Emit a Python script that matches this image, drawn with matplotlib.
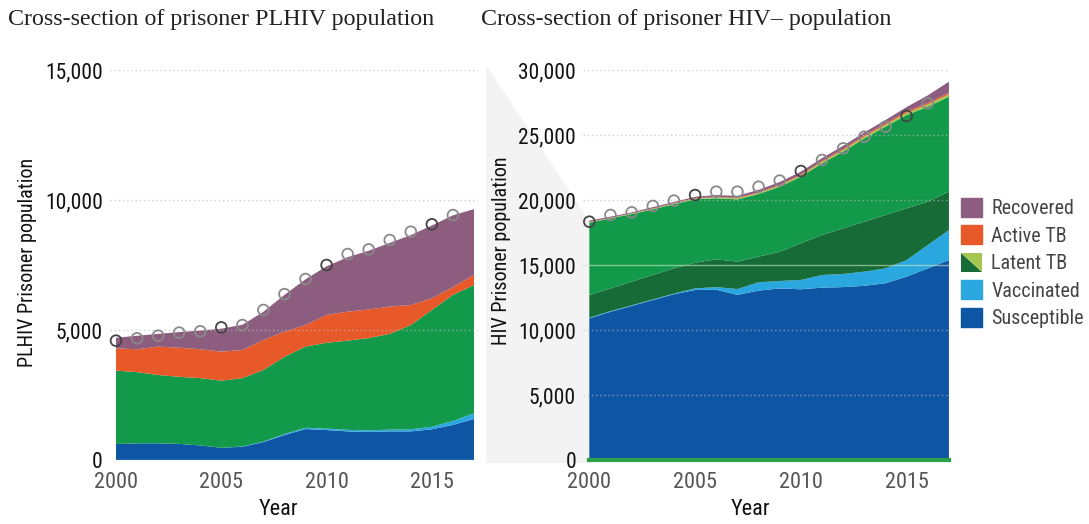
import matplotlib
matplotlib.use("Agg")
import matplotlib.pyplot as plt
from matplotlib.patches import Polygon, Patch
from matplotlib.legend_handler import HandlerBase
from matplotlib.font_manager import fontManager, FontProperties

years = list(range(2000, 2018))
obs_years = list(range(2000, 2017))

# PLHIV prisoners, layer sizes per year
plhiv_susceptible = [615, 640, 640, 620, 560, 470, 510, 690, 960, 1190, 1150, 1100, 1080, 1100, 1100, 1180, 1350, 1580]
plhiv_vaccinated = [0, 0, 0, 0, 0, 0, 10, 20, 40, 50, 60, 60, 60, 70, 80, 100, 150, 220]
plhiv_latent = [2820, 2740, 2630, 2580, 2590, 2580, 2630, 2750, 2970, 3120, 3300, 3430, 3550, 3680, 4010, 4490, 4850, 4930]
plhiv_active = [860, 880, 1090, 1120, 1110, 1120, 1080, 1155, 965, 830, 1070, 1115, 1100, 1050, 770, 450, 300, 390]
plhiv_recovered = [405, 520, 490, 600, 720, 880, 970, 1085, 1415, 1760, 1870, 2095, 2260, 2450, 2690, 2800, 2760, 2530]
plhiv_observed = [4590, 4680, 4780, 4900, 4950, 5100, 5190, 5770, 6380, 6960, 7500, 7920, 8100, 8460, 8780, 9065, 9420]

# HIV-negative prisoners, layer sizes per year
neg_susceptible = [10900, 11400, 11850, 12300, 12750, 13080, 13100, 12700, 13030, 13200, 13130, 13260, 13300, 13400, 13600, 14100, 14740, 15380]
neg_vaccinated = [50, 50, 50, 50, 50, 120, 200, 450, 640, 570, 720, 970, 1010, 1090, 1140, 1280, 1800, 2310]
neg_latent_recent = [1740, 1750, 1820, 1880, 1940, 1980, 2140, 2110, 1970, 2250, 2820, 3080, 3510, 3840, 4110, 3980, 3330, 2950]
neg_latent_remote = [5570, 5390, 5200, 5050, 4950, 4870, 4690, 4790, 4820, 5000, 5120, 5510, 5900, 6410, 6790, 7180, 7310, 7310]
neg_latent_treated = [30, 30, 35, 40, 45, 50, 60, 70, 80, 90, 100, 110, 120, 130, 150, 160, 175, 185]
neg_active = [20, 20, 25, 25, 30, 35, 40, 45, 50, 60, 70, 80, 90, 100, 105, 110, 115, 120]
neg_recovered = [110, 80, 70, 105, 85, 115, 150, 155, 190, 210, 220, 210, 240, 230, 255, 340, 580, 845]
neg_observed = [18330, 18850, 19050, 19540, 19950, 20380, 20640, 20640, 21020, 21490, 22230, 23080, 23970, 24870, 25640, 26460, 27440]

left_ticks = [0, 5000, 10000, 15000]
right_ticks = [0, 5000, 10000, 15000, 20000, 25000, 30000]
xticks = [2000, 2005, 2010, 2015]

BLUE = "#0e55a4"
LIGHT_BLUE = "#2aa7df"
GREEN = "#12994a"
DARK_GREEN = "#166b36"
LIME = "#a3c74f"
ORANGE = "#e8592a"
PURPLE = "#8c5d7e"


def is_regular(f):
    return f.style == "normal" and str(f.weight) in ("400", "normal", "regular", "book")


def narrow_font_file():
    # prefer a condensed sans face for the axis text
    for name in ["Liberation Sans Narrow", "Roboto Condensed", "Open Sans Condensed",
                 "Noto Sans Condensed", "DejaVu Sans Condensed"]:
        for f in fontManager.ttflist:
            if f.name == name and is_regular(f):
                return f.fname
    for name in ["Noto Sans", "Open Sans", "DejaVu Sans", "Roboto"]:
        for f in fontManager.ttflist:
            if f.name == name and f.stretch in ("condensed", "semi-condensed") and is_regular(f):
                return f.fname
    for f in fontManager.ttflist:
        if f.name == "Roboto" and is_regular(f):
            return f.fname
    return None


NARROW_FILE = narrow_font_file()


def narrow(size):
    if NARROW_FILE:
        return FontProperties(fname=NARROW_FILE, size=size)
    return FontProperties(family="DejaVu Sans", stretch="condensed", size=size)


SERIF = ["Liberation Serif", "DejaVu Serif"]

W, H = 1089, 524
fig = plt.figure(figsize=(W / 100, H / 100), dpi=100)


def px(x, y):
    return x / W, 1 - y / H


# light grey wedge linking the two panels
wedge = Polygon([px(486, 65), px(590, 222), px(590, 463), px(486, 463)],
                closed=True, transform=fig.transFigure, facecolor="#f3f3f3",
                edgecolor="none", zorder=0)
fig.add_artist(wedge)

bottom = 1 - 460 / H
height = 390 / H
ax1 = fig.add_axes([109.7 / W, bottom, (478.2 - 109.7) / W, height])
ax2 = fig.add_axes([583 / W, bottom, (950 - 583) / W, height])


def style_axes(ax, ymax, yticks, ylabel, xlabel_x, ylabel_xy):
    ax.set_facecolor("none")
    for s in ax.spines.values():
        s.set_visible(False)
    ax.set_ylim(0, ymax)
    ax.set_yticks(yticks)
    ax.set_yticklabels([f"{t:,}" for t in yticks], fontproperties=narrow(15.5), color="#111111")
    ax.set_xticks(xticks)
    ax.set_xticklabels([str(t) for t in xticks], fontproperties=narrow(16), color="#555555")
    ax.tick_params(axis="y", length=0, pad=5)
    ax.tick_params(axis="x", length=0, pad=9)
    ax.set_xlabel("Year", fontproperties=narrow(16), color="#111111")
    ax.xaxis.set_label_coords(xlabel_x, -0.1)
    ax.set_ylabel(ylabel, fontproperties=narrow(14.5), color="#111111")
    ax.yaxis.set_label_coords(*ylabel_xy)


# left panel
ax1.stackplot(years, plhiv_susceptible, plhiv_vaccinated, plhiv_latent, plhiv_active, plhiv_recovered,
              colors=[BLUE, LIGHT_BLUE, GREEN, ORANGE, PURPLE], linewidth=0, zorder=2)
ax1.set_xlim(1999.7, 2017.2)
style_axes(ax1, 15000, left_ticks, "PLHIV Prisoner population", (278 - 109.7) / 368.5,
           ((37 - 109.7) / 368.5, (460 - 262) / 390))
for t in left_ticks[1:]:
    ax1.axhline(t, color="#bbbbbb", alpha=0.7, lw=1, ls=(0, (1, 2)), zorder=3)
ax1.plot([2000, 2017], [0, 0], color="#6fb6e8", lw=1, zorder=3)

# right panel
ax2.stackplot(years, neg_susceptible, neg_vaccinated, neg_latent_recent, neg_latent_remote,
              neg_latent_treated, neg_active, neg_recovered,
              colors=[BLUE, LIGHT_BLUE, DARK_GREEN, GREEN, LIME, ORANGE, PURPLE], linewidth=0, zorder=2)
ax2.set_xlim(1999.7, 2017.05)
style_axes(ax2, 30000, right_ticks, "HIV Prisoner population", (750 - 583) / 367,
           ((511 - 583) / 367, (460 - 251) / 390))
for t in right_ticks[1:]:
    if t == 15000:
        ax2.axhline(t, color="#cfe8c0", alpha=0.6, lw=1, zorder=3)
    else:
        ax2.axhline(t, color="#bbbbbb", alpha=0.7, lw=1, ls=(0, (1, 2)), zorder=3)
ax2.plot([2000, 2017], [0, 0], color="#2aa04a", lw=3, zorder=3, clip_on=False)

# observed population markers, every fifth year drawn darker
for ax, obs in ((ax1, plhiv_observed), (ax2, neg_observed)):
    edges = ["#444444" if y % 5 == 0 else "#8a8a8a" for y in obs_years]
    ax.scatter(obs_years, obs, s=60, facecolors="none", edgecolors=edges, linewidths=1.3,
               zorder=4, clip_on=False)

fig.text(8 / W, 1 - 20 / H, "Cross-section of prisoner PLHIV population", family=SERIF,
         fontsize=17.3, color="#222222", va="center", ha="left")
fig.text(481 / W, 1 - 20 / H, "Cross-section of prisoner HIV\u2013 population", family=SERIF,
         fontsize=17.3, color="#222222", va="center", ha="left")


class LatentHandler(HandlerBase):
    def create_artists(self, legend, orig_handle, xdescent, ydescent, width, height, fontsize, trans):
        x0, y0 = -xdescent, -ydescent
        lower = Polygon([[x0, y0 + height], [x0, y0], [x0 + width, y0]], closed=True,
                        facecolor=DARK_GREEN, edgecolor="none", transform=trans)
        upper = Polygon([[x0, y0 + height], [x0 + width, y0 + height], [x0 + width, y0]], closed=True,
                        facecolor=LIME, edgecolor="none", transform=trans)
        return [lower, upper]


latent_handle = Patch(label="Latent TB")
handles = [Patch(color=PURPLE, label="Recovered"), Patch(color=ORANGE, label="Active TB"),
           latent_handle, Patch(color=LIGHT_BLUE, label="Vaccinated"), Patch(color=BLUE, label="Susceptible")]
fig.legend(handles=handles, handler_map={latent_handle: LatentHandler()}, loc="upper left",
           bbox_to_anchor=px(961, 198), frameon=False, handlelength=1.05, handleheight=1.05,
           handletextpad=0.45, labelspacing=0.36, borderaxespad=0, borderpad=0,
           prop=narrow(14.5), labelcolor="#444444")

fig.savefig("out.png", dpi=100)
